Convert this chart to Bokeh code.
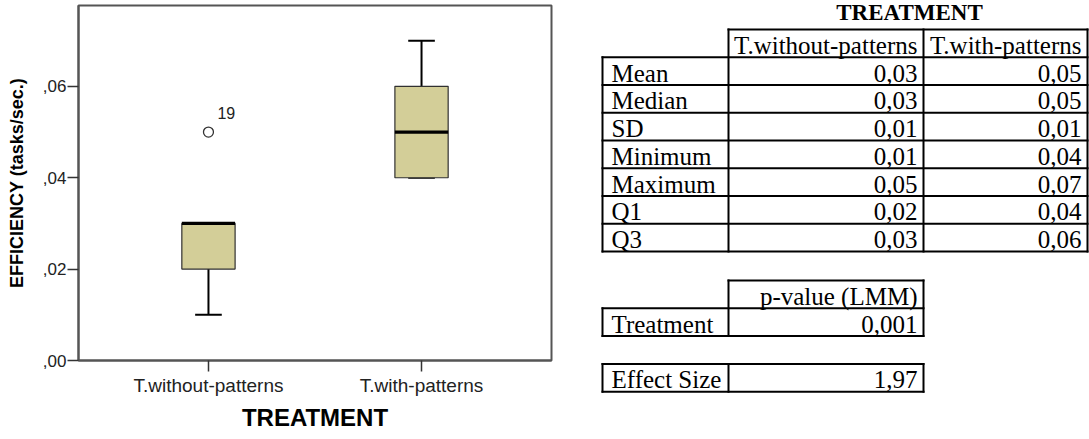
from bokeh.plotting import figure
from bokeh.models import (ColumnDataSource, FactorRange, Range1d, FixedTicker,
                          CustomJSTickFormatter)
from bokeh.layouts import row, column
from bokeh.core.properties import value
from bokeh.embed import file_html
from bokeh.resources import INLINE

# ---------------- data ----------------
groups = ["T.without-patterns", "T.with-patterns"]
box_q1 = [0.02, 0.04]
box_median = [0.03, 0.05]
box_q3 = [0.03, 0.06]
whisker_low = [0.01, 0.04]
whisker_high = [0.03, 0.07]
outlier_group = ["T.without-patterns"]
outlier_value = [0.05]
outlier_label = ["19"]
y_ticks = [0.0, 0.02, 0.04, 0.06]

table_title = "TREATMENT"
stat_names = ["Mean", "Median", "SD", "Minimum", "Maximum", "Q1", "Q3"]
stats_without = [0.03, 0.03, 0.01, 0.01, 0.05, 0.02, 0.03]
stats_with = [0.05, 0.05, 0.01, 0.04, 0.07, 0.04, 0.06]
pvalue_header = "p-value (LMM)"
pvalue_rows = ["Treatment"]
pvalue_values = [0.001]
effect_rows = ["Effect Size"]
effect_values = [1.97]


def fmt(v, nd):
    return f"{v:.{nd}f}".replace(".", ",")


# ---------------- box plot ----------------
SANS = value("Liberation Sans")
SERIF = value("Liberation Serif")
W1, H = 590, 439
BOX_W = 0.25
CAP_W = 0.125

p = figure(width=W1, height=H,
           x_range=FactorRange(*groups, range_padding=0.11, range_padding_units="absolute"),
           y_range=Range1d(0, 0.0777),
           output_backend="svg", toolbar_location=None,
           min_border_left=78, min_border_right=39, min_border_top=5, min_border_bottom=79)
p.xgrid.visible = False
p.ygrid.visible = False
p.outline_line_color = "#555555"
p.outline_line_width = 2

src = ColumnDataSource(dict(
    g=groups, q1=box_q1, med=box_median, q3=box_q3, lo=whisker_low, hi=whisker_high,
    gl=[(g, -BOX_W / 2) for g in groups], gr=[(g, BOX_W / 2) for g in groups],
    cl=[(g, -CAP_W / 2) for g in groups], cr=[(g, CAP_W / 2) for g in groups],
))

# whiskers
p.segment(x0="g", y0="q3", x1="g", y1="hi", source=src, line_color="black", line_width=2)
p.segment(x0="g", y0="q1", x1="g", y1="lo", source=src, line_color="black", line_width=2)
p.segment(x0="cl", y0="hi", x1="cr", y1="hi", source=src, line_color="black", line_width=2)
p.segment(x0="cl", y0="lo", x1="cr", y1="lo", source=src, line_color="black", line_width=2)
# boxes
p.vbar(x="g", top="q3", bottom="q1", width=BOX_W, source=src,
       fill_color="#D3CE98", line_color="#303030", line_width=1.2)
# medians
p.segment(x0="gl", y0="med", x1="gr", y1="med", source=src, line_color="black",
          line_width=3.3, line_cap="butt")

# outlier
osrc = ColumnDataSource(dict(g=outlier_group, v=outlier_value, t=outlier_label))
p.scatter(x="g", y="v", source=osrc, marker="circle", size=10, fill_color="white",
          line_color="#333333", line_width=1.3)
p.text(x="g", y="v", text="t", source=osrc, x_offset=9, y_offset=-19,
       text_align="left", text_baseline="middle", text_font=SANS,
       text_font_size="16px", text_color="#222222")

# axes
for ax in (p.xaxis[0], p.yaxis[0]):
    ax.axis_line_color = "#555555"
    ax.axis_line_width = 2
    ax.major_tick_line_color = "#333333"
    ax.major_tick_line_width = 1.5
    ax.major_tick_in = 0
    ax.major_tick_out = 11
    ax.minor_tick_line_color = None
    ax.major_label_text_font = "Liberation Sans"
    ax.major_label_text_color = "#222222"
    ax.axis_label_text_font = "Liberation Sans"
    ax.axis_label_text_font_style = "bold"
    ax.axis_label_text_color = "black"

p.xaxis.axis_label = "TREATMENT"
p.xaxis.major_label_text_font_size = "19px"
p.xaxis.axis_label_text_font_size = "24px"
p.xaxis.major_label_standoff = 3
p.xaxis.axis_label_standoff = 5

p.yaxis.axis_label = "EFFICIENCY (tasks/sec.)"
p.yaxis.ticker = FixedTicker(ticks=y_ticks)
p.yaxis.formatter = CustomJSTickFormatter(code="return tick.toFixed(2).replace('0.', ',');")
p.yaxis.major_label_text_font_size = "17px"
p.yaxis.axis_label_text_font_size = "18px"
p.yaxis.major_label_standoff = 1
p.yaxis.axis_label_standoff = 13

# ---------------- tables ----------------
W2 = 1089 - W1
t = figure(width=W2, height=H, x_range=Range1d(W1, W1 + W2), y_range=Range1d(H, 0),
           output_backend="svg", toolbar_location=None,
           x_axis_location=None, y_axis_location=None, min_border=0)
t.xgrid.visible = False
t.ygrid.visible = False
t.outline_line_color = None

COLS = [602, 728, 923, 1087]
ROW_H = 27.75
PAD_L, PAD_R = 9, 6
TEXT_SHIFT = 12  # distance from row bottom to text anchor
FS = "25px"

seg = dict(x0=[], y0=[], x1=[], y1=[])
left_txt = dict(x=[], y=[], t=[])
right_txt = dict(x=[], y=[], t=[])


def hline(x0, x1, y):
    seg["x0"].append(x0); seg["x1"].append(x1); seg["y0"].append(y); seg["y1"].append(y)


def vline(x, y0, y1):
    seg["x0"].append(x); seg["x1"].append(x); seg["y0"].append(y0); seg["y1"].append(y1)


def draw_table(top, headers, row_labels, columns):
    ncol = len(columns)
    right = COLS[ncol + 1]
    body_top = top
    if headers:
        hline(COLS[1], right, top)
        for j, h in enumerate(headers):
            right_txt["x"].append(COLS[j + 2] - PAD_R)
            right_txt["y"].append(top + ROW_H - TEXT_SHIFT)
            right_txt["t"].append(h)
        body_top = top + ROW_H
    hline(COLS[0], right, body_top)
    for i, lab in enumerate(row_labels):
        yb = body_top + ROW_H * (i + 1)
        hline(COLS[0], right, yb)
        left_txt["x"].append(COLS[0] + PAD_L)
        left_txt["y"].append(yb - TEXT_SHIFT)
        left_txt["t"].append(lab)
        for j, col in enumerate(columns):
            right_txt["x"].append(COLS[j + 2] - PAD_R)
            right_txt["y"].append(yb - TEXT_SHIFT)
            right_txt["t"].append(col[i])
    bottom = body_top + ROW_H * len(row_labels)
    vline(COLS[0], body_top, bottom)
    for j in range(1, ncol + 2):
        vline(COLS[j], top, bottom)


draw_table(29, groups, stat_names,
           [[fmt(v, 2) for v in stats_without], [fmt(v, 2) for v in stats_with]])
draw_table(280, [pvalue_header], pvalue_rows, [[fmt(v, 3) for v in pvalue_values]])
draw_table(363.5, None, effect_rows, [[fmt(v, 2) for v in effect_values]])

t.segment(x0="x0", y0="y0", x1="x1", y1="y1", source=ColumnDataSource(seg),
          line_color="black", line_width=2, line_cap="square")
t.text(x="x", y="y", text="t", source=ColumnDataSource(left_txt), text_align="left",
       text_baseline="alphabetic", text_font=SERIF, text_font_size=FS, text_color="black")
t.text(x="x", y="y", text="t", source=ColumnDataSource(right_txt), text_align="right",
       text_baseline="alphabetic", text_font=SERIF, text_font_size=FS, text_color="black")
t.text(x=[909], y=[12], text=[table_title], text_align="center", text_baseline="alphabetic",
       text_font=SERIF, text_font_style="bold", text_font_size="23px", text_color="black")

layout = row(p, column(t))
open("out.html", "w").write(file_html(layout, INLINE))
